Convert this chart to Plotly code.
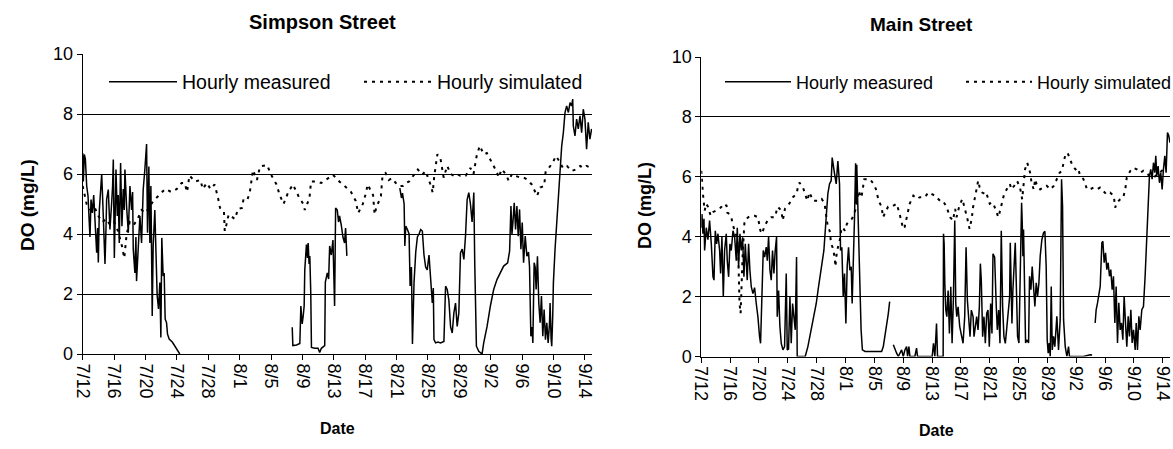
import pandas as pd
import plotly.graph_objects as go

BASE = pd.Timestamp("2005-07-12")

# ---------------- Simpson Street ----------------
# days after 7/12 (fractional), DO in mg/L ; None = gap in record
simpson_meas_day = [
    0.0, 0.08, 0.21, 0.34, 0.51, 0.68, 0.85, 0.93, 1.06, 1.23, 1.4, 1.57, 1.78, 1.91, 1.99,
    2.12, 2.29, 2.42, 2.54, 2.63, 2.84, 2.97, 3.05, 3.26, 3.39, 3.47, 3.69, 3.81, 3.9, 4.03,
    4.15, 4.24, 4.41, 4.53, 4.66, 4.83, 5.0, 5.17, 5.3, 5.38, 5.59, 5.81, 6.02, 6.23, 6.36,
    6.44, 6.65, 6.78, 6.86, 7.08, 7.29, 7.5, 7.71, 7.92, 8.14, 8.26, 8.43, 8.56, 8.69, 8.86,
    8.98, 9.19, 9.32, 9.49, 9.66, 9.83, 9.96, 10.08, 10.25, 10.38, 10.51, 10.68, 10.81, 11.02,
    11.44, 11.86, 12.29, 12.37,
    19.5,
    26.7, 26.78, 27.25, 27.67, 27.8, 27.97, 28.1, 28.22, 28.3, 28.51, 28.64, 28.73, 28.85,
    28.94, 29.06, 29.15, 29.57, 29.99, 30.2, 30.41, 30.84, 30.92, 31.17, 31.34, 31.47, 31.68,
    31.89, 32.0, 32.1, 32.23, 32.44, 32.6, 32.73, 32.95, 33.16, 33.37, 33.5, 33.66,
    37.0,
    40.41, 40.62, 40.75, 40.96, 41.05, 41.17, 41.38, 41.59, 41.72, 41.89, 42.02, 42.1, 42.22,
    42.44, 42.65, 42.86, 43.07, 43.28, 43.49, 43.7, 43.9, 44.13, 44.34, 44.55, 44.68, 44.76,
    44.97, 45.27, 45.61, 46.03, 46.24, 46.45, 46.66, 46.88, 47.09, 47.3, 47.51, 47.72, 47.93,
    48.14, 48.36, 48.57, 48.78, 48.99, 49.2, 49.41, 49.62, 49.84, 49.96, 50.05, 50.17, 50.47,
    50.68, 50.89, 51.1, 51.53, 51.95, 52.37, 52.79, 53.22, 53.64, 54.15, 54.4, 54.57, 54.7,
    54.82, 54.99, 55.16, 55.33, 55.5, 55.67, 55.84, 56.01, 56.18, 56.39, 56.6, 56.81, 56.94,
    57.11, 57.28, 57.36, 57.53, 57.66, 57.78, 57.95, 58.12, 58.29, 58.46, 58.63, 58.8, 58.97,
    59.14, 59.31, 59.48, 59.56, 59.69, 59.77, 59.9, 59.98, 60.19, 60.41, 60.62, 60.83, 61.04,
    61.25, 61.46, 61.67, 61.89, 62.1, 62.31, 62.44, 62.52, 62.73, 62.94, 63.15, 63.37, 63.58,
    63.79, 64.0, 64.21, 64.42, 64.63, 64.85,
]
simpson_meas_do = [
    6.7, 5.75, 6.65, 6.5, 5.6, 5.26, 4.3, 3.9, 5.15, 4.7, 5.3, 4.4, 3.38, 4.2, 3.05,
    4.8, 5.7, 6.0, 5.2, 4.6, 3.0, 4.2, 5.15, 5.48, 4.6, 4.15, 5.04, 5.6, 6.48, 3.2,
    4.8, 6.15, 4.6, 5.3, 3.7, 6.37, 4.26, 5.5, 4.8, 6.15, 4.93, 4.04, 5.6, 4.8, 5.4,
    3.5, 2.7, 3.9, 2.43, 3.7, 4.6, 3.7, 5.48, 6.15, 7.0, 4.04, 6.25, 3.7, 5.6, 1.27,
    3.6, 4.8, 3.5, 1.94, 1.5, 2.38, 0.55, 3.87, 2.6, 2.7, 1.16, 1.05, 0.66, 0.5,
    0.39, 0.22, 0.03, 0.0,
    None,
    0.89, 0.28, 0.3, 0.35, 1.6, 1.0, 1.27, 1.6, 2.8, 3.65, 3.2, 3.7, 3.0,
    3.27, 2.05, 0.22, 0.19, 0.19, 0.05, 0.19, 0.28, 2.4, 2.7, 2.5, 3.6, 3.3,
    3.8, 2.9, 1.6, 4.87, 4.8, 4.4, 4.6, 4.3, 3.9, 3.7, 4.2, 3.27,
    None,
    5.53, 5.2, 5.36, 5.0, 3.6, 4.26, 4.15, 4.0, 2.27, 2.9, 0.33, 1.05, 2.38,
    3.4, 3.9, 4.0, 4.15, 4.1, 3.3, 2.9, 2.8, 3.3, 2.37, 1.7, 2.2, 0.48,
    0.37, 0.4, 0.37, 0.42, 2.26, 2.15, 1.8, 0.9, 0.7, 1.37, 1.7, 0.92, 1.37,
    3.37, 3.5, 3.15, 3.93, 5.15, 5.38, 5.0, 4.4, 5.38, 3.0, 1.5, 0.26, 0.09,
    0.03, 0.0, 0.37, 0.92, 1.6, 2.15, 2.48, 2.7, 2.93, 3.04, 3.43, 4.93, 4.0,
    4.38, 5.04, 4.15, 4.93, 3.93, 4.82, 3.49, 4.38, 3.04, 3.93, 3.26, 3.4, 2.9,
    0.59, 0.9, 0.37, 3.04, 2.9, 2.15, 3.26, 1.7, 1.04, 1.93, 0.59, 1.48, 0.48,
    1.04, 0.37, 1.0, 1.7, 0.5, 0.26, 1.3, 2.37, 3.49, 4.38, 5.15, 5.71, 6.94,
    7.38, 8.05, 8.27, 8.05, 8.38, 8.27, 8.5, 7.6, 7.27, 7.83, 7.5, 7.94, 7.38,
    8.16, 7.83, 6.83, 7.72, 7.16, 7.5,
]
simpson_sim_day = [
    0.0, 0.5, 1.0, 1.5, 2.0, 2.5, 3.0, 3.5, 4.0, 4.5, 5.0, 5.3, 5.6, 6.0, 6.5, 7.0, 7.5, 8.0,
    8.5, 9.0, 9.6, 10.5, 11.3, 12.0, 12.6, 13.0, 13.3, 13.6, 14.3, 15.0, 15.3, 15.8, 16.3,
    16.8, 17.2, 17.5, 18.0, 18.1, 18.3, 18.6, 19.4, 19.8, 20.3, 20.5, 21.0, 21.3, 21.7, 22.2,
    22.6, 23.0, 23.5, 24.0, 24.7, 25.1, 25.6, 26.2, 26.8, 27.5, 28.1, 28.3, 28.9, 29.1, 29.8,
    30.4, 31.0, 31.9, 32.7, 33.2, 33.8, 34.2, 34.5, 34.8, 35.1, 35.7, 36.1, 36.3, 37.0, 37.2,
    37.4, 38.0, 38.2, 38.6, 39.0, 39.4, 39.9, 40.3, 40.8, 41.2, 41.6, 42.2, 42.7, 43.3, 43.7,
    44.3, 44.6, 44.8, 45.2, 45.6, 46.0, 46.45, 46.9, 47.3, 47.7, 48.1, 48.8, 49.4, 49.8,
    50.2, 50.6, 51.1, 51.5, 51.9, 52.4, 52.8, 53.0, 53.4, 53.9, 54.3, 54.7, 55.1, 55.8, 56.2,
    56.6, 57.2, 57.7, 57.9, 58.3, 58.8, 59.0, 59.4, 59.9, 60.3, 60.8, 61.2, 61.7, 62.3, 62.9,
    63.4, 63.8, 64.2, 64.8,
]
simpson_sim_do = [
    5.6, 5.0, 4.8, 4.9, 4.6, 4.4, 4.5, 4.3, 4.4, 4.1, 3.6, 3.2, 4.0, 4.4, 4.3, 4.5, 4.8, 4.7,
    4.9, 5.1, 5.26, 5.5, 5.4, 5.5, 5.7, 5.7, 5.4, 5.95, 5.75, 5.8, 5.5, 5.7, 5.5,
    5.65, 5.26, 4.87, 4.76, 4.1, 4.3, 4.65, 4.5, 4.84, 4.87, 5.17, 5.15, 5.4, 6.13, 5.8,
    6.25, 6.27, 6.3, 5.98, 5.65, 5.3, 5.0, 5.4, 5.65, 5.26, 5.0, 4.8, 5.2, 5.75, 5.75,
    5.7, 5.8, 5.97, 5.75, 5.65, 5.5, 5.4, 5.26, 5.1, 4.7, 5.0, 5.37, 5.65, 5.3, 4.65,
    4.87, 5.26, 5.93, 6.03, 5.8, 5.86, 5.7, 5.6, 5.6, 5.7, 5.75, 5.98, 6.15, 5.98, 6.1,
    5.66, 5.38, 5.93, 6.66, 6.5, 5.88, 6.27, 6.0, 5.94, 6.0, 5.94, 5.94, 6.2, 6.0,
    6.6, 6.94, 6.66, 6.7, 6.5, 6.27, 6.05, 5.88, 6.16, 6.0, 5.77, 6.0, 5.94, 5.88, 5.88,
    5.82, 5.66, 5.38, 5.27, 5.55, 5.6, 6.1, 6.2, 6.38, 6.6, 6.4, 6.2, 6.27, 6.1, 6.16,
    6.27, 6.2, 6.27, 6.2,
]

# ---------------- Main Street ----------------
main_meas_day = [
    0.0, 0.09, 0.23, 0.37, 0.46, 0.69, 0.92, 1.15, 1.39, 1.62, 1.76, 1.94, 2.12, 2.31, 2.54,
    2.68, 2.86, 3.05, 3.23, 3.46, 3.6, 3.79, 3.97, 4.16, 4.39, 4.62, 4.85, 4.99, 5.17, 5.36,
    5.54, 5.73, 5.91, 6.1, 6.37, 6.56, 6.74, 6.93, 7.16, 7.39, 7.62, 7.85, 8.08, 8.22, 8.31,
    8.45, 8.59, 8.78, 9.01, 9.15, 9.33, 9.52, 9.7, 9.88, 10.07, 10.25, 10.44, 10.53, 10.72,
    10.9, 11.09, 11.32, 11.55, 11.78, 11.92, 12.1, 12.29, 12.47, 12.66, 12.84, 13.03, 13.21,
    13.3, 13.86, 14.41, 14.78, 15.24, 15.7, 15.94, 16.26, 16.63, 17.0, 17.32, 17.55, 17.78,
    18.01, 18.15, 18.34, 18.48, 18.71, 18.94, 19.17, 19.31, 19.49, 19.68, 19.86, 20.05,
    20.23, 20.42, 20.6, 20.79, 20.92, 21.06, 21.25, 21.4, 21.48, 21.56, 21.7, 21.79, 21.88,
    22.02, 22.16, 22.34, 22.71, 23.63, 24.55, 25.01, 25.24, 25.47, 25.71, 25.94, 26.12,
    26.4,
    26.63, 26.86, 27.09, 27.32, 27.55, 27.78, 28.01, 28.24, 28.47, 28.61, 28.79, 28.93, 29.39,
    29.62, 29.85, 29.99, 30.54, 31.24, 32.02, 32.2, 32.39, 32.62, 32.76, 33.54, 33.59, 33.68,
    33.77, 33.91, 34.05, 34.23, 34.41, 34.6, 34.78, 34.97, 35.15, 35.29, 35.43, 35.61, 35.84,
    36.07, 36.3, 36.53, 36.72, 36.9, 37.08, 37.27, 37.45, 37.69, 37.82, 38.01, 38.19, 38.38,
    38.56, 38.7, 38.83, 39.02, 39.2, 39.39, 39.58, 39.76, 39.94, 40.13, 40.31, 40.45, 40.68,
    40.91, 41.05, 41.24, 41.42, 41.6, 41.79, 41.97, 42.16, 42.34, 42.53, 42.76, 42.85, 43.08,
    43.21, 43.4, 43.54, 43.68, 43.86, 44.05, 44.23, 44.42, 44.51, 44.6, 44.69, 44.79, 44.97,
    45.15, 45.39, 45.52, 45.71, 45.89, 46.08, 46.26, 46.45, 46.63, 46.82, 47.0, 47.23, 47.46,
    47.65, 47.83, 47.97, 48.11, 48.25, 48.39, 48.53, 48.67, 48.85, 49.03, 49.31, 49.54, 49.77,
    49.87, 49.96, 50.1, 50.24, 50.47, 50.7, 50.93, 51.06, 52.08, 53.01, 53.93, 54.2,
    54.4,
    54.62, 54.76, 54.95, 55.13, 55.32, 55.55, 55.69, 55.87, 56.06, 56.24, 56.42, 56.61, 56.79,
    56.98, 57.16, 57.35, 57.53, 57.72, 57.9, 58.09, 58.27, 58.46, 58.64, 58.83, 59.01, 59.2,
    59.38, 59.57, 59.75, 59.94, 60.17, 60.31, 60.49, 60.68, 60.86, 61.09, 61.32, 61.55, 61.69,
    61.88, 62.01, 62.15, 62.33, 62.52, 62.71, 62.89, 63.03, 63.17, 63.35, 63.54, 63.72, 63.91,
    64.09, 64.28, 64.46, 64.65, 64.83, 65.0,
]
main_meas_do = [
    4.3, 4.76, 4.1, 4.6, 3.54, 4.3, 3.9, 4.54, 3.76, 2.66, 2.55, 4.2, 3.76, 4.1, 3.54,
    2.77, 4.0, 2.0, 3.54, 4.1, 3.2, 2.66, 3.76, 3.54, 4.2, 4.0, 3.2, 4.3, 3.0, 4.1,
    3.54, 3.98, 2.66, 3.76, 2.55, 3.76, 2.88, 2.33, 2.1, 2.3, 1.77, 1.33, 0.66, 0.44, 1.2,
    2.88, 3.54, 3.32, 3.65, 3.2, 4.0, 2.88, 2.55, 3.54, 2.77, 3.54, 4.0, 1.33, 2.2,
    1.0, 0.44, 0.22, 0.33, 2.77, 0.22, 0.25, 2.0, 0.44, 1.77, 1.33, 0.89, 3.32,
    0.0, 0.0, 0.0, 0.33, 0.89, 1.44, 1.77, 2.33, 2.88, 3.54, 4.65, 5.43, 5.76,
    5.87, 6.64, 6.2, 6.1, 5.76, 6.53, 5.76, 3.54, 3.65, 2.0, 2.77, 1.1,
    3.0, 3.65, 2.88, 3.0, 1.77, 3.54, 4.65, 6.45, 5.1, 6.4, 4.9, 4.1, 3.54,
    1.88, 0.89, 0.22, 0.17, 0.17, 0.17, 0.17, 0.33, 0.66, 1.1, 1.44, 1.83,
    None,
    0.39, 0.22, 0.11, 0.0, 0.11, 0.22, 0.0, 0.22, 0.33, 0.0, 0.33, 0.0, 0.0,
    0.0, 0.28, 0.0, 0.0, 0.0, 0.0, 0.44, 0.0, 1.1, 0.0, 0.0, 4.1, 3.76,
    2.44, 1.55, 1.33, 2.2, 0.77, 2.33, 0.44, 2.0, 4.54, 1.77, 1.33, 1.66, 1.0,
    0.66, 0.44, 1.33, 3.65, 1.88, 1.22, 0.66, 1.55, 1.33, 0.66, 1.0, 1.33, 0.89,
    1.66, 3.1, 2.55, 0.66, 1.33, 0.44, 1.44, 1.55, 0.33, 1.77, 0.77, 3.43, 3.32,
    1.66, 0.89, 1.55, 0.44, 4.2, 1.66, 0.66, 0.44, 0.89, 1.33, 1.99, 3.8, 1.1,
    2.2, 3.1, 3.8, 2.46, 0.67, 0.45, 2.23, 5.13, 4.46, 3.35, 4.24, 2.23, 0.45,
    0.56, 0.45, 2.68, 2.23, 3.0, 2.46, 1.67, 2.46, 2.01, 2.46, 3.35, 3.9, 4.13,
    4.18, 3.0, 0.56, 0.11, 0.45, 0.0, 2.34, 0.22, 0.67, 0.33, 1.34, 0.22, 1.23,
    5.69, 5.92, 5.02, 1.23, 0.33, 0.0, 0.33, 0.0, 0.0, 0.0, 0.06, 0.05,
    None,
    1.12, 1.56, 1.79, 2.12, 2.34, 3.8, 3.85, 3.13, 3.46, 2.9, 3.13, 2.68, 2.9,
    2.23, 2.68, 1.12, 2.34, 0.45, 1.79, 0.89, 1.12, 0.56, 2.01, 1.12, 0.33, 1.34,
    0.67, 1.56, 0.45, 0.89, 0.22, 1.12, 0.22, 1.34, 0.89, 1.56, 1.67, 2.68, 3.46,
    4.35, 5.25, 6.03, 6.25, 5.92, 6.47, 6.14, 6.7, 6.03, 6.36, 5.8, 6.14, 5.58,
    6.25, 6.7, 6.14, 7.48, 7.37, 7.14,
]
main_sim_day = [
    0.0, 0.09, 0.23, 0.46, 0.69, 0.92, 1.3, 1.6, 2.1, 2.5, 2.8, 3.1, 3.5, 3.6, 3.9, 4.2, 4.4,
    4.6, 4.9, 5.1, 5.2, 5.3, 5.45, 5.55, 5.75, 6.0, 6.5, 6.9, 7.4, 7.85, 8.2, 8.4, 8.8, 9.2,
    9.7, 10.2, 10.6, 11.1, 11.3, 11.6, 12.2, 12.7, 13.2, 13.4, 13.6, 14.1, 14.4, 14.7, 15.0,
    15.5, 15.9, 16.4, 16.7, 17.1, 17.55, 17.8, 18.0, 18.2, 18.5, 18.6, 18.8, 19.2, 19.4, 19.6,
    19.9, 20.2, 20.6, 20.9, 21.2, 21.5, 21.8, 22.2, 22.6, 22.9, 23.4, 23.9, 24.2, 24.6, 25.0,
    25.2, 25.5, 25.9, 26.4, 27.1, 27.5, 27.8, 28.0, 28.2, 28.6, 28.9, 29.4, 29.9, 30.3, 31.0,
    31.5, 31.9, 32.4, 33.1, 33.5, 34.0, 34.5, 34.9, 35.2, 35.4, 35.8, 36.2, 36.5, 36.9, 37.2,
    37.5, 37.7, 38.0, 38.4, 38.6, 38.9, 39.3, 39.5, 40.0, 40.3, 40.6, 40.9, 41.2, 41.5, 41.8,
    42.0, 42.4, 42.8, 43.0, 43.4, 43.8, 44.2, 44.5, 44.7, 44.9, 45.2, 45.4, 45.6, 45.8, 46.1,
    46.3, 46.5, 47.0, 47.5, 47.9, 48.4, 48.9, 49.3, 49.7, 50.0, 50.2, 50.5, 50.8, 51.2, 51.5,
    51.9, 52.2, 52.5, 53.0, 53.5, 53.9, 54.4, 54.9, 55.3, 55.8, 56.2, 56.7, 57.2, 57.4, 57.6,
    58.1, 58.5, 58.8, 59.0, 59.5, 59.9, 60.4, 60.9, 61.3, 61.8, 62.2, 62.7, 63.2, 63.6, 64.1,
    64.6,
]
main_sim_do = [
    6.2, 5.76, 5.43, 4.87, 5.1, 5.0, 4.7, 4.82, 4.87, 4.93, 5.0, 5.1, 5.04, 4.8, 4.76, 4.6, 4.37,
    4.2, 4.0, 3.65, 2.33, 1.77, 1.44, 2.3, 3.5, 4.54, 4.65, 4.7, 4.7, 4.65, 4.2, 4.1, 4.37, 4.54,
    4.65, 4.65, 5.0, 4.87, 4.54, 4.93, 5.1, 5.32, 5.43, 5.65, 5.81, 5.65, 5.43, 5.2, 5.48,
    5.2, 5.2, 5.2, 5.26, 5.1, 4.32, 4.2, 3.77, 3.65, 3.32, 3.0, 3.5, 3.88, 4.2, 4.32,
    4.2, 4.43, 4.54, 4.6, 4.76, 5.0, 5.54, 5.3, 5.92, 5.92, 5.92, 5.76, 5.6, 5.2, 5.0,
    4.65, 4.82, 5.0, 5.0, 5.1, 4.76, 4.43, 4.26, 4.32, 4.76, 5.1, 5.37, 5.26, 5.32, 5.32,
    5.48, 5.43, 5.37, 5.2, 5.2, 5.0, 4.65, 4.54, 4.93, 4.65, 5.04, 5.26, 5.0, 4.6, 4.26,
    4.6, 5.0, 5.43, 5.87, 5.65, 5.48, 5.43, 5.48, 5.1, 5.15, 5.04, 4.82, 4.65, 4.93, 5.2,
    5.43, 5.6, 5.76, 5.58, 5.7, 5.86, 5.64, 5.25, 5.7, 6.25, 6.47, 6.3, 6.14, 5.8, 5.58,
    5.92, 5.75, 5.58, 5.64, 5.7, 5.58, 5.7, 5.92, 6.14, 6.2, 6.47, 6.75, 6.8, 6.53, 6.36,
    6.25, 6.3, 6.08, 5.92, 5.58, 5.58, 5.64, 5.58, 5.64, 5.52, 5.41, 5.47, 5.36, 4.97, 5.13,
    5.25, 5.3, 5.58, 5.97, 6.2, 6.3, 6.25, 6.14, 6.2, 6.1, 6.03, 5.97, 6.08, 6.14, 6.25,
    6.3,
]

y_ticks = [0, 2, 4, 6, 8, 10]
series_names = ["Hourly measured", "Hourly simulated"]
titles = ["Simpson Street", "Main Street"]


def to_dates(days):
    return BASE + pd.to_timedelta(days, unit="D")


FONT = "Liberation Sans, Arial, sans-serif"
W, H = 1173, 449

fig = go.Figure()

panels = [
    (simpson_meas_day, simpson_meas_do, simpson_sim_day, simpson_sim_do, "x", "y", "legend"),
    (main_meas_day, main_meas_do, main_sim_day, main_sim_do, "x2", "y2", "legend2"),
]
for md, mv, sd, sv, xa, ya, lg in panels:
    fig.add_trace(go.Scatter(
        x=to_dates(md), y=mv, mode="lines", name=series_names[0],
        line=dict(color="black", width=1.5), xaxis=xa, yaxis=ya, legend=lg,
        connectgaps=False))
    fig.add_trace(go.Scatter(
        x=to_dates(sd), y=sv, mode="lines", name=series_names[1],
        line=dict(color="black", width=2, dash="3px,5px"), xaxis=xa, yaxis=ya, legend=lg))

# geometry (pixels)
L_x0, L_x1, L_ytop, L_ybot = 82.7, 592, 54, 354
R_x0, R_x1, R_ytop, R_ybot = 701.3, 1170, 57, 356.5

tick_font = dict(family=FONT, size=18, color="black")
xcommon = dict(
    type="date", tick0=BASE, dtick=4 * 86400000, tickformat="%-m/%-d", tickangle=90,
    ticks="outside", ticklen=5, tickcolor="black", tickwidth=1,
    showline=True, linecolor="black", linewidth=1, showgrid=False, zeroline=False,
    tickfont=tick_font, fixedrange=True, automargin=False,
)
ycommon = dict(
    range=[0, 10], tickvals=y_ticks, ticks="outside", ticklen=5, tickcolor="black",
    showline=True, linecolor="black", linewidth=1, showgrid=True, gridcolor="black",
    gridwidth=1, zeroline=False, tickfont=tick_font, fixedrange=True, automargin=False,
)

fig.update_layout(
    width=W, height=H, margin=dict(l=0, r=0, t=0, b=0, autoexpand=False),
    paper_bgcolor="white", plot_bgcolor="white",
    font=dict(family=FONT, color="black"),
    xaxis=dict(domain=[L_x0 / W, L_x1 / W], anchor="y",
               range=[BASE, BASE + pd.Timedelta(days=64.9)], **xcommon),
    yaxis=dict(domain=[1 - L_ybot / H, 1 - L_ytop / H], anchor="x", **ycommon),
    xaxis2=dict(domain=[R_x0 / W, R_x1 / W], anchor="y2",
                range=[BASE, BASE + pd.Timedelta(days=65.0)], **xcommon),
    yaxis2=dict(domain=[1 - R_ybot / H, 1 - R_ytop / H], anchor="x2", **ycommon),
    legend=dict(orientation="h", x=104 / W, y=1 - 82 / H, xanchor="left", yanchor="middle",
                bgcolor="rgba(0,0,0,0)", font=dict(family=FONT, size=19.5, color="black"),
                entrywidth=172, entrywidthmode="pixels", itemwidth=68),
    legend2=dict(orientation="h", x=720 / W, y=1 - 82 / H, xanchor="left", yanchor="middle",
                 bgcolor="rgba(0,0,0,0)", font=dict(family=FONT, size=18, color="black"),
                 entrywidth=160, entrywidthmode="pixels", itemwidth=66),
    showlegend=True,
)

ann = []
ann.append(dict(text="<b>" + titles[0] + "</b>", x=322 / W, y=1 - 22 / H, xref="paper", yref="paper",
                showarrow=False, font=dict(family=FONT, size=20, color="black"),
                xanchor="center", yanchor="middle"))
ann.append(dict(text="<b>" + titles[1] + "</b>", x=921 / W, y=1 - 24 / H, xref="paper", yref="paper",
                showarrow=False, font=dict(family=FONT, size=19, color="black"),
                xanchor="center", yanchor="middle"))
for xpix, ypix, fs in [(27, 205, 19), (645, 206, 18)]:
    ann.append(dict(text="<b>DO (mg/L)</b>", x=xpix / W, y=1 - ypix / H, xref="paper", yref="paper",
                    showarrow=False, textangle=-90, font=dict(family=FONT, size=fs, color="black"),
                    xanchor="center", yanchor="middle"))
for xpix, ypix in [(337, 428), (936, 430)]:
    ann.append(dict(text="<b>Date</b>", x=xpix / W, y=1 - ypix / H, xref="paper", yref="paper",
                    showarrow=False, font=dict(family=FONT, size=16, color="black"),
                    xanchor="center", yanchor="middle"))
fig.update_layout(annotations=ann)

fig.write_html(
    "out.html",
    config={"displayModeBar": False},
    post_script="document.body.style.margin='0';document.body.style.overflow='hidden';",
)
